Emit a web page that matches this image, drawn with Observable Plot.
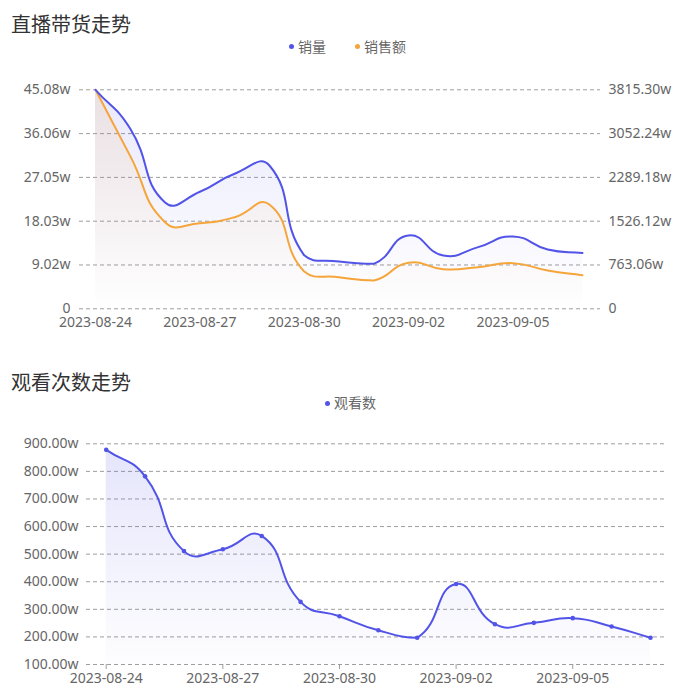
<!DOCTYPE html>
<html><head><meta charset="utf-8">
<script src="https://cdn.jsdelivr.net/npm/d3@7"></script>
<script src="https://cdn.jsdelivr.net/npm/@observablehq/plot@0.6"></script>
<style>
html,body{margin:0;padding:0;background:#fff;overflow:hidden;}
#root{position:relative;width:681px;height:694px;font-family:"Noto Sans","Noto Sans CJK SC",sans-serif;}
.title{position:absolute;left:11px;font-size:20px;line-height:20px;color:#333;font-family:"Noto Sans CJK SC",sans-serif;white-space:nowrap;}
.leg{position:absolute;font-size:14px;line-height:14px;color:#666;font-family:"Noto Sans CJK SC",sans-serif;white-space:nowrap;}
.dot{position:absolute;width:5px;height:5px;border-radius:50%;}
.chart{position:absolute;left:0;}
</style></head><body>
<div id="root">
  <div class="title" style="top:14px">直播带货走势</div>
  <div class="dot" style="left:288.5px;top:44.2px;background:#5254e8"></div>
  <div class="leg" style="left:298px;top:38.5px">销量</div>
  <div class="dot" style="left:354.5px;top:44.2px;background:#f5a53a"></div>
  <div class="leg" style="left:364px;top:38.5px">销售额</div>
  <div id="c1" class="chart" style="top:60px"></div>

  <div class="title" style="top:372px">观看次数走势</div>
  <div class="dot" style="left:324.5px;top:400.8px;background:#5254e8"></div>
  <div class="leg" style="left:334px;top:395px">观看数</div>
  <div id="c2" class="chart" style="top:420px"></div>
</div>
<script>
const dates = ["2023-08-24","2023-08-25","2023-08-26","2023-08-27","2023-08-28","2023-08-29","2023-08-30","2023-08-31","2023-09-01","2023-09-02","2023-09-03","2023-09-04","2023-09-05","2023-09-06","2023-09-07"];
const salesVolume = [45.08, 37.05, 21.9, 24.1, 27.8, 29.5, 11.0, 9.74, 9.26, 15.1, 10.97, 12.7, 14.9, 12.2, 11.5];
const salesAmount = [3815.30, 2660, 1509, 1491, 1596, 1817, 650, 551, 493, 801, 690, 725, 795, 667, 585];
const views = [878, 782, 511, 518, 566, 327, 275, 224, 197, 392, 246, 251, 268, 238, 197];
const leftTicks = [0, 9.02, 18.03, 27.05, 36.06, 45.08];
const rightTicks = [0, 763.06, 1526.12, 2289.18, 3052.24, 3815.30];
const viewTicks = [100, 200, 300, 400, 500, 600, 700, 800, 900];
const xTickLabels = ["2023-08-24","2023-08-27","2023-08-30","2023-09-02","2023-09-05"];

const BLUE = "#5254e8", ORANGE = "#f5a53a", GRID = "#9e9e9e", TXT = "#666";
const parse = d3.utcParse("%Y-%m-%d");
const fmt = d3.utcFormat("%Y-%m-%d");
const leftMax = leftTicks[leftTicks.length - 1], rightMax = rightTicks[rightTicks.length - 1];
const xDomain = [parse(dates[0]), parse(dates[dates.length - 1])];

// Smooth bezier curve in the style of ECharts "smooth: true" (factor 0.5, bbox constraint)
function SmoothCurve(context) { this._context = context; }
SmoothCurve.prototype = {
  areaStart() { this._line = 0; },
  areaEnd() { this._line = NaN; },
  lineStart() { this._pts = []; },
  point(x, y) { this._pts.push([+x, +y]); },
  lineEnd() {
    const p = this._pts, n = p.length, c = this._context, s = 0.5;
    if (n === 0) return;
    if (this._line) c.lineTo(p[0][0], p[0][1]); else c.moveTo(p[0][0], p[0][1]);
    if (n > 1) {
      let minX = Infinity, minY = Infinity, maxX = -Infinity, maxY = -Infinity;
      for (const [x, y] of p) { minX = Math.min(minX, x); maxX = Math.max(maxX, x); minY = Math.min(minY, y); maxY = Math.max(maxY, y); }
      const cl = (v, a, b) => Math.max(a, Math.min(b, v));
      const cp0 = [], cp1 = [];
      for (let i = 0; i < n; i++) {
        const pt = p[i], pr = p[i - 1] || pt, nx = p[i + 1] || pt;
        const vx = (nx[0] - pr[0]) * s, vy = (nx[1] - pr[1]) * s;
        let d0 = Math.hypot(pt[0] - pr[0], pt[1] - pr[1]), d1 = Math.hypot(pt[0] - nx[0], pt[1] - nx[1]);
        const sum = d0 + d1; if (sum) { d0 /= sum; d1 /= sum; }
        cp0[i] = [cl(pt[0] - vx * d0, minX, maxX), cl(pt[1] - vy * d0, minY, maxY)];
        cp1[i] = [cl(pt[0] + vx * d1, minX, maxX), cl(pt[1] + vy * d1, minY, maxY)];
      }
      for (let i = 1; i < n; i++) c.bezierCurveTo(cp1[i - 1][0], cp1[i - 1][1], cp0[i][0], cp0[i][1], p[i][0], p[i][1]);
    }
    if (this._line || (this._line !== 0 && n === 1)) c.closePath();
    this._line = 1 - this._line;
  }
};
const curve = ctx => new SmoothCurve(ctx);

function addGrad(svg, id, color, a0, a1) {
  const ns = "http://www.w3.org/2000/svg";
  let defs = svg.querySelector("defs");
  if (!defs) { defs = document.createElementNS(ns, "defs"); svg.insertBefore(defs, svg.firstChild); }
  const g = document.createElementNS(ns, "linearGradient");
  g.setAttribute("id", id); g.setAttribute("x1", "0"); g.setAttribute("y1", "0"); g.setAttribute("x2", "0"); g.setAttribute("y2", "1");
  [[0, a0], [1, a1]].forEach(([o, a]) => {
    const st = document.createElementNS(ns, "stop");
    st.setAttribute("offset", o); st.setAttribute("stop-color", color); st.setAttribute("stop-opacity", a);
    g.appendChild(st);
  });
  defs.appendChild(g);
}

const topData = dates.map((d, i) => ({date: parse(d), vol: salesVolume[i], amt: salesAmount[i] * leftMax / rightMax}));

const chart1 = Plot.plot({
  width: 681, height: 280,
  marginTop: 29.3, marginBottom: 31.7, marginLeft: 79, marginRight: 81,
  style: {fontFamily: "'Noto Sans', sans-serif", fontSize: "14px", background: "transparent", overflow: "visible"},
  x: {type: "utc", domain: xDomain, insetLeft: 16, insetRight: 18},
  y: {domain: [0, leftMax]},
  marks: [
    Plot.ruleY(leftTicks, {stroke: GRID, strokeDasharray: "4,3", strokeWidth: 1}),
    Plot.areaY(topData, {x: "date", y1: 0, y2: "vol", fill: "url(#g1)", curve}),
    Plot.areaY(topData, {x: "date", y1: 0, y2: "amt", fill: "url(#g2)", curve}),
    Plot.lineY(topData, {x: "date", y: "amt", stroke: ORANGE, strokeWidth: 2, curve}),
    Plot.lineY(topData, {x: "date", y: "vol", stroke: BLUE, strokeWidth: 2, curve}),
    Plot.axisY(leftTicks, {anchor: "left", tickSize: 0, tickPadding: 9, label: null, fill: TXT,
      tickFormat: d => d === 0 ? "0" : d.toFixed(2) + "w"}),
    Plot.axisY(rightTicks.map(v => v * leftMax / rightMax), {anchor: "right", tickSize: 0, tickPadding: 8, label: null, fill: TXT,
      tickFormat: d => { const v = d * rightMax / leftMax; return Math.abs(v) < 1e-9 ? "0" : v.toFixed(2) + "w"; }}),
    Plot.axisX(xTickLabels.map(parse), {tickSize: 0, tickPadding: 8, label: null, fill: TXT, tickFormat: fmt})
  ]
});
addGrad(chart1, "g1", BLUE, 0.13, 0.0);
addGrad(chart1, "g2", ORANGE, 0.13, 0.0);
document.getElementById("c1").appendChild(chart1);

const botData = dates.map((d, i) => ({date: parse(d), v: views[i]}));
const chart2 = Plot.plot({
  width: 681, height: 274,
  marginTop: 23.3, marginBottom: 30, marginLeft: 86, marginRight: 14,
  style: {fontFamily: "'Noto Sans', sans-serif", fontSize: "14px", background: "transparent", overflow: "visible"},
  x: {type: "utc", domain: xDomain, insetLeft: 19.7, insetRight: 17},
  y: {domain: [100, 900]},
  marks: [
    Plot.ruleY(viewTicks, {stroke: GRID, strokeDasharray: "4,3", strokeWidth: 1}),
    Plot.areaY(botData, {x: "date", y1: 100, y2: "v", fill: "url(#g3)", curve}),
    Plot.lineY(botData, {x: "date", y: "v", stroke: BLUE, strokeWidth: 2, curve}),
    Plot.dot(botData, {x: "date", y: "v", r: 2.3, fill: BLUE, stroke: "none"}),
    Plot.axisY(viewTicks, {anchor: "left", tickSize: 0, tickPadding: 8, label: null, fill: TXT,
      tickFormat: d => d.toFixed(2) + "w"}),
    Plot.axisX(xTickLabels.map(parse), {tickSize: 5, tickPadding: 3.5, label: null, fill: TXT, stroke: GRID, tickFormat: fmt})
  ]
});
addGrad(chart2, "g3", BLUE, 0.15, 0.01);
document.getElementById("c2").appendChild(chart2);
</script>
</body></html>
